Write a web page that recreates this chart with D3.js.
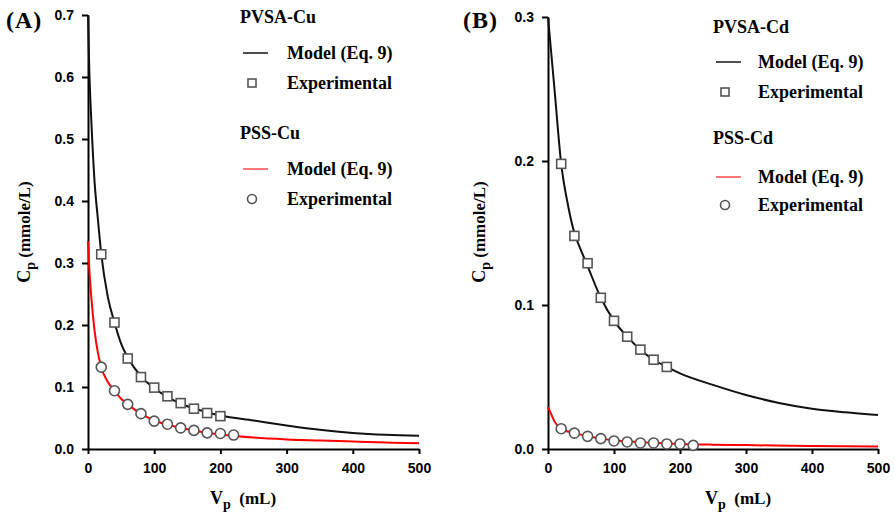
<!DOCTYPE html>
<html lang="en">
<head>
   <meta charset="UTF-8">
   <title>Cp vs Vp</title>
   <style>
      body { margin: 0; background: white; }
      .tick text {
         font-family: "Liberation Sans", Arial, sans-serif;
         font-weight: bold;
         font-size: 14px;
      }
      .domain, .tick line { stroke: black; stroke-width: 2; }
      .serif {
         font-family: "Liberation Serif", "Times New Roman", serif;
         font-weight: bold;
      }
      path.model { fill: none; stroke-width: 2; }
      .marker { fill: white; stroke: #555; stroke-width: 1.6; }
   </style>
   <script src="https://cdn.jsdelivr.net/npm/d3@7"></script>
</head>
<body>
<svg id="chart" width="895" height="513"></svg>
<script>
   // ---- data ----
   // panel A (Cu)
   const expVA = [20, 40, 60, 80, 100, 120, 140, 160, 180, 200]
   const pvsaCuExp = [0.314, 0.204, 0.146, 0.116, 0.099, 0.085, 0.074, 0.065, 0.058, 0.053]
   const expVA2 = [20, 40, 60, 80, 100, 120, 140, 160, 180, 200, 220]
   const pssCuExp = [0.132, 0.094, 0.072, 0.057, 0.045, 0.040, 0.034, 0.030, 0.026, 0.025, 0.0225]

   const modelVA = [0, 2, 5, 10, 15, 20, 30, 40, 50, 60, 80, 100, 125, 150, 175, 200, 250, 300, 350, 400, 450, 500]
   const pvsaCuModel = [0.70, 0.61, 0.53, 0.43, 0.37, 0.315, 0.245, 0.204, 0.170, 0.148, 0.117, 0.098, 0.081, 0.069, 0.061, 0.054, 0.046, 0.038, 0.031, 0.026, 0.023, 0.0215]
   const pssCuModel = [0.335, 0.29, 0.245, 0.19, 0.155, 0.132, 0.108, 0.094, 0.081, 0.072, 0.057, 0.046, 0.038, 0.032, 0.027, 0.0235, 0.0185, 0.0155, 0.0137, 0.012, 0.0105, 0.0092]

   // panel B (Cd)
   const expVB = [20, 40, 60, 80, 100, 120, 140, 160, 180]
   const pvsaCdExp = [0.198, 0.148, 0.129, 0.105, 0.089, 0.078, 0.069, 0.062, 0.057]
   const expVB2 = [20, 40, 60, 80, 100, 120, 140, 160, 180, 200, 220]
   const pssCdExp = [0.0141, 0.011, 0.0088, 0.0072, 0.0056, 0.0049, 0.0042, 0.0042, 0.0035, 0.0035, 0.0025]

   const modelVB1 = [0, 10, 20, 30, 40, 50, 60, 80, 100, 120, 140, 160, 180, 200, 250, 300, 350, 400, 450, 500]
   const pvsaCdModel = [0.300, 0.249, 0.198, 0.170, 0.150, 0.138, 0.127, 0.105, 0.089, 0.078, 0.069, 0.062, 0.057, 0.0525, 0.0445, 0.0375, 0.032, 0.028, 0.0255, 0.0236]
   const modelVB2 = [0, 5, 10, 20, 40, 60, 80, 100, 150, 200, 250, 300, 400, 500]
   const pssCdModel = [0.029, 0.024, 0.019, 0.014, 0.011, 0.009, 0.0072, 0.006, 0.0045, 0.0035, 0.003, 0.0027, 0.002, 0.0017]

   const xTicks = [0, 100, 200, 300, 400, 500]
   const yTicksA = [0, 0.1, 0.2, 0.3, 0.4, 0.5, 0.6, 0.7]
   const yTicksB = [0, 0.1, 0.2, 0.3]

   const svg = d3.select('#chart')

   function zip(xs, ys) { return xs.map((x, i) => [x, ys[i]]) }

   function drawPanel(p) {
      const x = d3.scaleLinear().domain([0, 500]).range([p.left, p.right])
      const y = d3.scaleLinear().domain([0, p.ymax]).range([449, p.top])
      const g = svg.append('g')

      g.append('g')
         .attr('transform', 'translate(0,449)')
         .call(d3.axisBottom(x).tickValues(xTicks).tickSize(5).tickSizeOuter(0).tickPadding(9))
      g.append('g')
         .attr('transform', `translate(${p.left},0)`)
         .call(d3.axisLeft(y).tickValues(p.yTicks).tickFormat(d3.format('.1f')).tickSize(6).tickSizeOuter(0).tickPadding(8))

      const line = d3.line().x(d => x(d[0])).y(d => y(d[1])).curve(d3.curveMonotoneX)

      g.append('path').attr('class', 'model')
         .attr('stroke', '#111')
         .attr('d', line(zip(p.blackV, p.blackModel)))
      g.append('path').attr('class', 'model')
         .attr('stroke', '#ff0000')
         .attr('d', line(zip(p.redV, p.redModel)))

      g.selectAll('rect.sq')
         .data(zip(p.sqV, p.sqVals))
         .join('rect')
            .attr('class', 'marker sq')
            .attr('x', d => x(d[0]) - 4.5)
            .attr('y', d => y(d[1]) - 4.5)
            .attr('width', 9)
            .attr('height', 9)
      g.selectAll('circle.ci')
         .data(zip(p.ciV, p.ciVals))
         .join('circle')
            .attr('class', 'marker ci')
            .attr('cx', d => x(d[0]))
            .attr('cy', d => y(d[1]))
            .attr('r', 5)

      // panel letter
      g.append('text').attr('class', 'serif')
         .attr('x', p.letterX).attr('y', 28)
         .attr('font-size', 24)
         .attr('letter-spacing', 1)
         .text(p.letter)

      // y title
      const yt = g.append('text').attr('class', 'serif')
         .attr('font-size', 17)
         .attr('text-anchor', 'middle')
         .attr('transform', `translate(${p.yTitleX},232) rotate(-90)`)
      yt.append('tspan').attr('font-size', 18).text('C')
      yt.append('tspan').attr('font-size', 14).attr('dy', 5).text('p')
      yt.append('tspan').attr('dy', -5).text('\u00a0(mmole/L)')

      // x title
      const xt = g.append('text').attr('class', 'serif')
         .attr('font-size', 17)
         .attr('x', p.xTitleX).attr('y', 504)
      xt.append('tspan').attr('font-size', 18).text('V')
      xt.append('tspan').attr('font-size', 14).attr('dy', 5).text('p')
      xt.append('tspan').attr('dy', -5).text('\u00a0\u00a0(mL)')

      // legend
      const L = p.legend
      const lg = g.append('g').attr('class', 'serif').attr('font-size', 18)
      lg.append('text').attr('x', L.x).attr('y', L.y0).text(p.blackName)
      lg.append('line').attr('x1', L.x + 3).attr('x2', L.x + 28)
         .attr('y1', L.y1).attr('y2', L.y1).attr('stroke', '#222').attr('stroke-width', 1.6)
      lg.append('text').attr('x', L.tx).attr('y', L.y1 + 6).text('Model (Eq. 9)')
      lg.append('rect').attr('class', 'marker')
         .attr('x', L.x + 8).attr('y', L.y2 - 4).attr('width', 8).attr('height', 8)
      lg.append('text').attr('x', L.tx).attr('y', L.y2 + 6).text('Experimental')

      lg.append('text').attr('x', L.x).attr('y', L.y3).text(p.redName)
      lg.append('line').attr('x1', L.x + 3).attr('x2', L.x + 28)
         .attr('y1', L.y4).attr('y2', L.y4).attr('stroke', '#f55').attr('stroke-width', 1.6)
      lg.append('text').attr('x', L.tx).attr('y', L.y4 + 6).text('Model (Eq. 9)')
      lg.append('circle').attr('class', 'marker')
         .attr('cx', L.x + 12).attr('cy', L.y5).attr('r', 4.5)
      lg.append('text').attr('x', L.tx).attr('y', L.y5 + 6).text('Experimental')
   }

   drawPanel({
      left: 88, right: 419, top: 15, ymax: 0.7, yTicks: yTicksA,
      blackV: modelVA, blackModel: pvsaCuModel, redV: modelVA, redModel: pssCuModel,
      sqV: expVA, sqVals: pvsaCuExp, ciV: expVA2, ciVals: pssCuExp,
      letter: '(A)', letterX: 6, yTitleX: 30, xTitleX: 210,
      blackName: 'PVSA-Cu', redName: 'PSS-Cu',
      legend: { x: 240, tx: 287, y0: 23, y1: 53, y2: 83, y3: 139, y4: 169, y5: 199 }
   })

   drawPanel({
      left: 548, right: 878, top: 17, ymax: 0.3, yTicks: yTicksB,
      blackV: modelVB1, blackModel: pvsaCdModel, redV: modelVB2, redModel: pssCdModel,
      sqV: expVB, sqVals: pvsaCdExp, ciV: expVB2, ciVals: pssCdExp,
      letter: '(B)', letterX: 463, yTitleX: 485, xTitleX: 705,
      blackName: 'PVSA-Cd', redName: 'PSS-Cd',
      legend: { x: 713, tx: 758, y0: 33, y1: 62, y2: 92, y3: 144, y4: 177, y5: 205 }
   })
</script>
</body>
</html>
